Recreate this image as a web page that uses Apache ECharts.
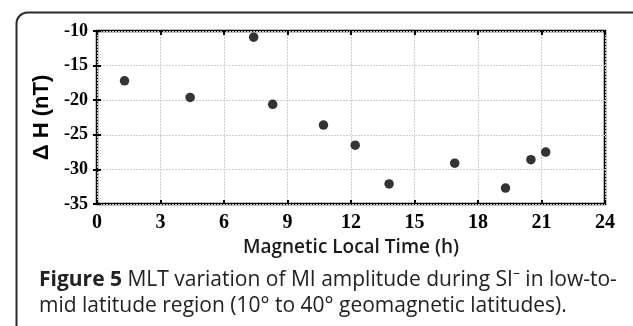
<!DOCTYPE html>
<html>
<head>
<meta charset="utf-8">
<script src="https://cdn.jsdelivr.net/npm/echarts@6/dist/echarts.min.js"></script>
<style>
  html, body { margin: 0; padding: 0; background: #fff; }
  #chart { width: 633px; height: 326px; }
</style>
</head>
<body>
<div id="chart"></div>
<script>
// Magnetic local time (h) of each event and its ΔH amplitude (nT)
const mltHours = [1.3, 4.4, 7.4, 8.3, 10.7, 12.2, 13.8, 16.9, 19.3, 20.5, 21.2];
const deltaH   = [-17.2, -19.6, -10.9, -20.6, -23.6, -26.5, -32.1, -29.1, -32.7, -28.6, -27.5];
const xTicks = [0, 3, 6, 9, 12, 15, 18, 21, 24];
const yTicks = [-35, -30, -25, -20, -15, -10];

const points = mltHours.map((h, i) => [h, deltaH[i]]);

const chart = echarts.init(document.getElementById('chart'));

const serif = '"Liberation Serif", "DejaVu Serif", serif';
const sans = '"Liberation Sans", Arial, sans-serif';
const caption = '"Open Sans", sans-serif';

const gridLine = { show: true, lineStyle: { color: '#cfcfcf', type: [2, 1], width: 1 } };
const tick = { show: true, inside: true, length: 4, lineStyle: { color: '#000', width: 2 } };

chart.setOption({
  animation: false,
  grid: { left: 97, right: 28, top: 31, bottom: 122, show: true, borderColor: '#000', borderWidth: 2.5, backgroundColor: '#fff' },
  xAxis: [
    {
      type: 'value', min: xTicks[0], max: xTicks[xTicks.length - 1], interval: 3,
      axisLine: { show: false }, axisTick: tick, splitLine: gridLine,
      axisLabel: { color: '#000', fontFamily: serif, fontWeight: 'bold', fontSize: 20, margin: 9 },
      name: 'Magnetic Local Time (h)', nameLocation: 'middle', nameGap: 33,
      nameTextStyle: { color: '#1a1a1a', fontFamily: caption, fontWeight: 600, fontSize: 19 }
    },
    {
      type: 'value', position: 'top', min: xTicks[0], max: xTicks[xTicks.length - 1], interval: 3,
      axisLine: { show: false }, axisTick: tick, splitLine: { show: false }, axisLabel: { show: false }
    }
  ],
  yAxis: [
    {
      type: 'value', min: yTicks[0], max: yTicks[yTicks.length - 1], interval: 5,
      axisLine: { show: false }, axisTick: tick, splitLine: gridLine,
      axisLabel: { color: '#000', fontFamily: serif, fontWeight: 'bold', fontSize: 18, margin: 9 },
      name: 'Δ H (nT)', nameLocation: 'middle', nameGap: 37, nameRotate: 90,
      nameTextStyle: { color: '#000', fontFamily: sans, fontWeight: 'bold', fontSize: 22 }
    },
    {
      type: 'value', position: 'right', min: yTicks[0], max: yTicks[yTicks.length - 1], interval: 5,
      axisLine: { show: false }, axisTick: tick, splitLine: { show: false }, axisLabel: { show: false }
    }
  ],
  series: [{
    type: 'scatter',
    data: points,
    symbol: 'circle',
    symbolSize: 9.5,
    itemStyle: { color: '#000' }
  }],
  graphic: [
    {
      type: 'rect', left: 14, top: 10, z: -1,
      shape: { width: 640, height: 340, r: 11 },
      style: { fill: 'none', stroke: '#2a2a2a', lineWidth: 2 }
    },
    {
      type: 'text', left: 39, top: 267,
      style: {
        text: '{b|Figure 5} MLT variation of MI amplitude during SI⁻ in low-to-\nmid latitude region (10° to 40° geomagnetic latitudes).',
        fill: '#222', fontFamily: caption, fontSize: 21, lineHeight: 26,
        rich: { b: { fontWeight: 'bold', fontFamily: caption, fontSize: 21, fill: '#222' } }
      }
    }
  ]
});
</script>
</body>
</html>
